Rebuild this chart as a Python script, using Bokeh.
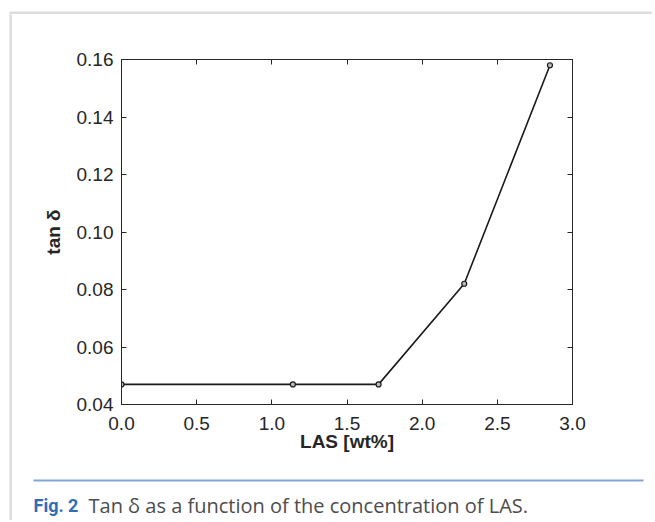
from bokeh.plotting import figure
from bokeh.models import (LinearAxis, Range1d, PrintfTickFormatter, FixedTicker,
                          ColumnDataSource, Spacer)
from bokeh.layouts import column, row
from bokeh.core.properties import value
from bokeh.embed import file_html
from bokeh.resources import INLINE

# ---- data ----
las_wt = [0.0, 1.14, 1.71, 2.28, 2.85]
tan_delta = [0.047, 0.047, 0.047, 0.082, 0.158]
x_ticks = [0.0, 0.5, 1.0, 1.5, 2.0, 2.5, 3.0]
y_ticks = [0.04, 0.06, 0.08, 0.10, 0.12, 0.14, 0.16]
x_label = "LAS [wt%]"
y_label = "tan δ"
fig_no = "Fig. 2"
caption = "Tan δ as a function of the concentration of LAS."

ink = "#262626"
frame_grey = "#dcdcdc"

# ---------------- chart ----------------
p = figure(width=640, height=456, output_backend="svg", toolbar_location=None,
           x_range=Range1d(0, 3.0), y_range=Range1d(0.04, 0.16),
           min_border_left=109, min_border_right=80, min_border_top=45,
           min_border_bottom=66, x_axis_location=None, y_axis_location=None)
p.frame_align = False
p.background_fill_color = "white"
p.border_fill_color = "white"
p.grid.visible = False
p.outline_line_color = ink
p.outline_line_width = 1

def style(ax, ticks, show):
    ax.ticker = FixedTicker(ticks=ticks)
    ax.axis_line_color = ink
    ax.major_tick_in = 5
    ax.major_tick_out = 0
    ax.major_tick_line_color = ink
    ax.minor_tick_line_color = None
    ax.major_label_text_font = "Liberation Sans"
    ax.major_label_text_font_size = "19px"
    ax.major_label_text_color = ink
    ax.axis_label_text_font = "Liberation Sans"
    ax.axis_label_text_font_size = "19px"
    ax.axis_label_text_font_style = "bold"
    ax.axis_label_text_color = ink
    if not show:
        ax.major_label_overrides = {t: "" for t in ticks}
        ax.major_label_standoff = 0

xb = LinearAxis(axis_label=x_label, formatter=PrintfTickFormatter(format="%.1f"))
xt = LinearAxis()
yl = LinearAxis(axis_label=y_label, formatter=PrintfTickFormatter(format="%.2f"))
yr = LinearAxis()
style(xb, x_ticks, True)
style(xt, x_ticks, False)
style(yl, y_ticks, True)
style(yr, y_ticks, False)
xb.major_label_standoff = 12
xb.axis_label_standoff = -2
yl.major_label_standoff = 8
yl.axis_label_standoff = 10
p.add_layout(xb, "below")
p.add_layout(xt, "above")
p.add_layout(yl, "left")
p.add_layout(yr, "right")

src = ColumnDataSource(dict(x=las_wt, y=tan_delta))
p.line("x", "y", source=src, line_color="#1a1a1a", line_width=1.6)
p.scatter("x", "y", source=src, size=5, marker="circle", fill_color="#bbbbbb",
          line_color="#1a1a1a", line_width=1.2)

# ---------------- caption panel ----------------
cw, ch = 640, 50
cap = figure(width=cw, height=ch, output_backend="svg", toolbar_location=None,
             x_range=Range1d(0, cw), y_range=Range1d(ch, 0),
             min_border=0, x_axis_location=None, y_axis_location=None)
cap.frame_align = False
cap.grid.visible = False
cap.outline_line_color = None
cap.background_fill_color = "white"
cap.border_fill_color = "white"
cap.segment(x0=21, y0=10, x1=631, y1=10, line_color="#7fa6d8", line_width=2)
cap.text(x=[21], y=[35], text=[fig_no], text_font=value("Roboto"),
         text_font_style="bold", text_font_size="18px", text_color="#2f6db5",
         text_baseline="middle")
cap.text(x=[76], y=[35], text=[caption], text_font=value("Open Sans"),
         text_font_size="20px", text_color="#4d4d4d", text_baseline="middle")

# ---------------- light grey page frame ----------------
tw, th = 652, 14
top = figure(width=tw, height=th, output_backend="svg", toolbar_location=None,
             x_range=Range1d(0, tw), y_range=Range1d(th, 0),
             min_border=0, x_axis_location=None, y_axis_location=None)
top.frame_align = False
top.grid.visible = False
top.outline_line_color = None
top.background_fill_color = "white"
top.border_fill_color = "white"
top.quad(left=9, right=tw, top=11, bottom=14, fill_color=frame_grey, line_color=None)

vstrip = figure(width=3, height=506, output_backend="svg", toolbar_location=None,
                min_border=0, x_axis_location=None, y_axis_location=None)
vstrip.frame_align = False
vstrip.grid.visible = False
vstrip.outline_line_color = None
vstrip.background_fill_color = frame_grey
vstrip.border_fill_color = frame_grey

layout = column(
    top,
    row(Spacer(width=9, height=506), vstrip, column(p, cap)),
)

open("out.html", "w").write(file_html(layout, INLINE))
